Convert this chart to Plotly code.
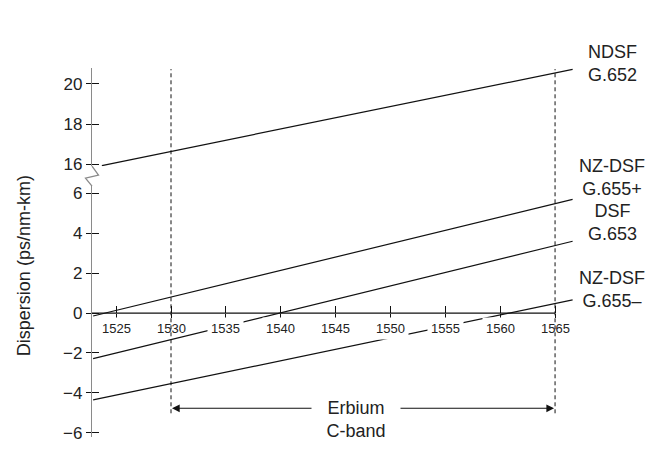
import plotly.graph_objects as go

# wavelength (nm) at the two ends of each dispersion line
wavelength = [1522.9, 1566.6]
wavelength_ndsf = [1523.7, 1566.6]
# dispersion (ps/nm-km) at those ends
ndsf_g652 = [15.95, 20.71]
nzdsf_g655_plus = [-0.15, 5.70]
dsf_g653 = [-2.29, 3.60]
nzdsf_g655_minus = [-4.36, 0.66]

x_ticks = [1525, 1530, 1535, 1540, 1545, 1550, 1555, 1560, 1565]
y_ticks_low = [-6, -4, -2, 0, 2, 4, 6]
y_ticks_high = [16, 18, 20]
band_edges = [1530, 1565]
band_label = "Erbium<br>C-band"
fiber_labels = ["NDSF<br>G.652", "NZ-DSF<br>G.655+", "DSF<br>G.653", "NZ-DSF<br>G.655–"]

x_range = [1522.8, 1567]
low_range = [-6.22, 6.37]
high_range = [15.92, 20.78]
low_domain = [0, 0.68]
high_domain = [0.734, 1]

ink = "#111111"
axis_gray = "#8a8a8a"
font = "Liberation Sans, Arial, sans-serif"


def low_to_paper(v):
    frac = (v - low_range[0]) / (low_range[1] - low_range[0])
    return low_domain[0] + frac * (low_domain[1] - low_domain[0])


x_pos = low_to_paper(0)
arrow_y = -4.78

fig = go.Figure()
fig.add_trace(
    go.Scatter(
        x=wavelength_ndsf,
        y=ndsf_g652,
        mode="lines",
        line=dict(color=ink, width=1.2),
        yaxis="y2",
        showlegend=False,
        hoverinfo="skip",
    )
)
for values in [nzdsf_g655_plus, dsf_g653, nzdsf_g655_minus]:
    fig.add_trace(
        go.Scatter(
            x=wavelength,
            y=values,
            mode="lines",
            line=dict(color=ink, width=1.2),
            showlegend=False,
            hoverinfo="skip",
        )
    )
# empty traces so the overlay tick axes get drawn
for xa, ya in [("x2", "y"), ("x", "y3"), ("x", "y4")]:
    fig.add_trace(go.Scatter(x=[None], y=[None], xaxis=xa, yaxis=ya, showlegend=False))

common = dict(showgrid=False, zeroline=False, tickcolor=ink, tickwidth=1.2)

shapes = []
for edge in band_edges:
    shapes.append(
        dict(
            type="line", xref="x", yref="paper",
            x0=edge, x1=edge, y0=low_to_paper(-5.03), y1=0.997,
            line=dict(color=ink, width=1, dash="4px,3px"),
        )
    )
shapes.append(
    dict(
        type="line", xref="x", yref="y",
        x0=x_range[0], x1=band_edges[1], y0=0, y1=0,
        line=dict(color=ink, width=1.2),
    )
)
# axis break zigzag between the two y axes
top, bottom = high_domain[0], low_domain[1]
gap = top - bottom
shapes.append(
    dict(
        type="path", xref="paper", yref="paper",
        path=(
            f"M 0,{top} L 0.0134,{top - gap * 0.45} "
            f"L -0.0134,{top - gap * 0.6} L 0,{bottom}"
        ),
        line=dict(color=axis_gray, width=1.3),
    )
)

annotations = []
for t in x_ticks:
    annotations.append(
        dict(
            x=t, y=0, xref="x", yref="y", yshift=-15,
            text=str(t), showarrow=False,
            font=dict(family=font, size=13, color="#222"),
            bgcolor="rgba(0,0,0,0)" if t in band_edges else "white",
            borderpad=3,
        )
    )

label_y = [1.011, 0.703, 0.58, 0.399]
for text, yv in zip(fiber_labels, label_y):
    annotations.append(
        dict(
            x=1, xref="paper", xshift=35, y=yv, yref="paper",
            text=text, showarrow=False, xanchor="center", yanchor="middle",
            font=dict(family=font, size=18, color="#222"),
        )
    )

annotations.append(
    dict(
        x=0, xref="paper", xshift=-68, y=0.463, yref="paper",
        xanchor="center", yanchor="middle",
        text="Dispersion (ps/nm-km)", textangle=-90, showarrow=False,
        font=dict(family=font, size=18, color="#222"),
    )
)

mid = (band_edges[0] + band_edges[1]) / 2
for edge in band_edges:
    annotations.append(
        dict(
            x=edge, y=arrow_y, xref="x", yref="y",
            ax=mid, ay=arrow_y, axref="x", ayref="y",
            text="", showarrow=True, arrowhead=2, arrowsize=1.4,
            arrowwidth=1.1, arrowcolor=ink, standoff=1,
        )
    )
annotations.append(
    dict(
        x=1546.9, y=arrow_y, xref="x", yref="y", yanchor="top", yshift=12,
        text=band_label, showarrow=False, width=86, bgcolor="white",
        font=dict(family=font, size=18, color="#222"),
    )
)

# the page body adds 8px around the plot, so the figure is 8px smaller
fig.update_layout(
    width=651,
    height=457,
    margin=dict(l=84, r=82, t=60, b=28),
    plot_bgcolor="white",
    paper_bgcolor="white",
    font=dict(family=font, size=17, color="#222"),
    xaxis=dict(
        range=x_range, anchor="free", position=x_pos,
        ticks="outside", ticklen=4, tickvals=x_ticks,
        showticklabels=False, showline=False, **common,
    ),
    xaxis2=dict(
        range=x_range, overlaying="x", anchor="free", position=x_pos,
        ticks="inside", ticklen=7, tickvals=x_ticks,
        showticklabels=False, showline=False, **common,
    ),
    yaxis=dict(
        domain=low_domain, range=low_range, anchor="x",
        ticks="outside", ticklen=5, tickvals=y_ticks_low,
        showline=True, linecolor=axis_gray, linewidth=1.3,
        tickfont=dict(size=17), ticklabelstandoff=0, **common,
    ),
    yaxis2=dict(
        domain=high_domain, range=high_range, anchor="x",
        ticks="outside", ticklen=5, tickvals=y_ticks_high,
        showline=True, linecolor=axis_gray, linewidth=1.3,
        tickfont=dict(size=17), ticklabelstandoff=0, **common,
    ),
    yaxis3=dict(
        overlaying="y", range=low_range, anchor="x", side="left",
        ticks="inside", ticklen=7, tickvals=y_ticks_low,
        showticklabels=False, showline=False, **common,
    ),
    yaxis4=dict(
        overlaying="y2", range=high_range, anchor="x", side="left",
        ticks="inside", ticklen=7, tickvals=y_ticks_high,
        showticklabels=False, showline=False, **common,
    ),
    shapes=shapes,
    annotations=annotations,
)

fig.write_html("out.html")
